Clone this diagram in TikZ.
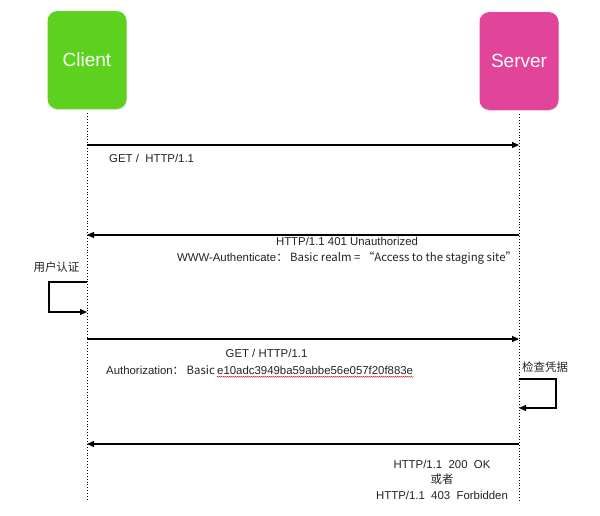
\documentclass[tikz,border=0pt]{standalone}
\usepackage{fontspec}
\setmainfont{Liberation Sans}
\newfontfamily\cjk{Noto Sans CJK SC}
\usetikzlibrary{positioning, arrows.meta, shadows, decorations.pathmorphing}
\definecolor{clientgreen}{HTML}{5DD21E}
\definecolor{serverpink}{HTML}{E2449A}
\definecolor{msgtext}{HTML}{222222}
\tikzset{
	actor/.style={rounded corners=10pt, minimum width=79pt, minimum height=98pt, text=white,
		font=\fontsize{19}{22}\selectfont, drop shadow={opacity=0.2, shadow xshift=0.6pt, shadow yshift=-1pt}},
	lifeline/.style={line width=0.9pt, dotted},
	msg/.style={line width=1.2pt, -{Triangle[length=7pt,width=6pt]}},
	msgtext/.style={inner sep=0pt, text=msgtext, font=\fontsize{11.4}{15.5}\selectfont},
	cjktext/.style={msgtext, font=\cjk\fontsize{11.5}{14}\selectfont},
}

\begin{document}
\begin{tikzpicture}[x=1pt, y=-1pt, node distance=4pt]
	\useasboundingbox (0,0) rectangle (600,515);
	\node (client) [actor, fill=clientgreen] at (87,60) {Client};
	\node (server) [actor, fill=serverpink] at (519,61) {Server};
	\coordinate (clientend) at (87,501);
	\coordinate (serverend) at (519,502);
	\coordinate (c1) at (87,145);  \coordinate (s1) at (519,145);
	\coordinate (c2) at (87,235);  \coordinate (s2) at (519,235);
	\coordinate (c3) at (87,282);  \coordinate (c4) at (87,312);
	\coordinate (c5) at (87,339);  \coordinate (s5) at (519,339);
	\coordinate (s6) at (519,379); \coordinate (s7) at (519,408);
	\coordinate (c8) at (87,444);  \coordinate (s8) at (519,444);
	\node (get1) [msgtext, anchor=mid west] at (109,160.2) {GET /~~HTTP/1.1};
	\node (unauth) [msgtext, anchor=mid] at (347,243.2) {HTTP/1.1 401 Unauthorized};
	\node (realm) [msgtext, anchor=mid] at (347,259.2)
		{WWW-Authenticate\cjk{：}~Basic realm = “Access to the staging site”};
	\node (usercheck) [cjktext, anchor=mid] at (56.5,269) {用户认证};
	\node (get2) [msgtext, anchor=mid] at (266.5,355.2) {GET / HTTP/1.1};
	\node (authkey) [msgtext, anchor=mid west] at (106,372) {Authorization\cjk{：}~Basic};
	\node (hash) [msgtext, anchor=mid west] at (217,372) {e10adc3949ba59abbe56e057f20f883e};
	\node (verify) [cjktext, anchor=mid] at (545,369) {检查凭据};
	\node (result) [msgtext, align=center] at (442,479.5)
		{HTTP/1.1~~200~~OK\\{\cjk 或者}\\HTTP/1.1~~403~~Forbidden};
	\draw [lifeline, shorten <=4pt] (client.south) -- (clientend);
	\draw [lifeline, shorten <=4pt] (server.south) -- (serverend);
	\draw [red!85!black, line width=0.5pt, decorate, decoration={snake, amplitude=0.5pt, segment length=2pt}]
		([yshift=-1.8pt]hash.south west) -- ([yshift=-1.8pt]hash.south east);
	\draw [msg] (c1) -- (s1);
	\draw [msg] (s2) -- (c2);
	\draw [msg] (c3) -- ++(-38,0) |- (c4);
	\draw [msg] (c5) -- (s5);
	\draw [msg] (s6) -- ++(37,0) |- (s7);
	\draw [msg] (s8) -- (c8);
\end{tikzpicture}
\end{document}
